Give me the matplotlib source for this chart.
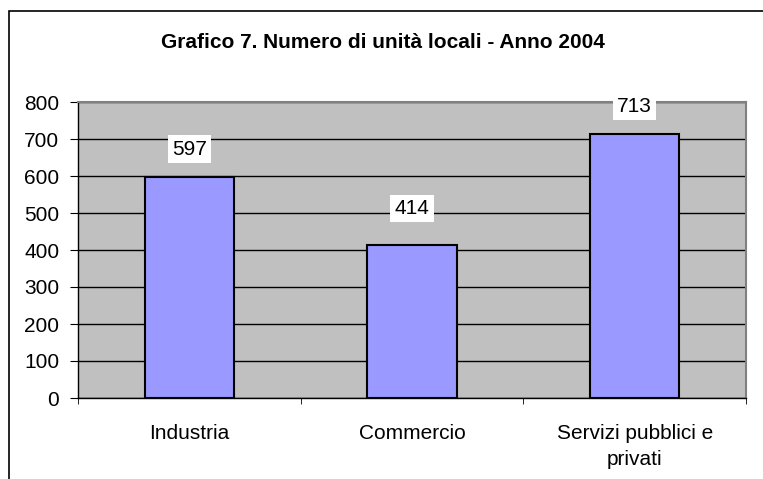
import matplotlib
matplotlib.use("Agg")
import matplotlib.pyplot as plt
from matplotlib.patches import Rectangle

categories = ["Industria", "Commercio", "Servizi pubblici e\nprivati"]
values = [597, 414, 713]
label_offsets = [28, 36, 28]  # pixels above bar top, as in the original
yticks = [0, 100, 200, 300, 400, 500, 600, 700, 800]

plt.rcParams['font.family'] = ['Liberation Sans', 'DejaVu Sans']

fig = plt.figure(figsize=(7.63, 4.79), dpi=100)

# outer chart frame (runs off the right and bottom edge)
fig.patches.append(Rectangle((9 / 763, -0.1), 1.0, 1 - 11 / 479 + 0.1,
                             transform=fig.transFigure, fill=False,
                             edgecolor='black', linewidth=1.2))

ax = fig.add_axes([78 / 763, 1 - 398 / 479, 668 / 763, 296 / 479])
ax.set_facecolor('#C0C0C0')

x = list(range(len(categories)))
ax.bar(x, values, width=0.4, color='#9999FF', edgecolor='black',
       linewidth=1.5, zorder=3)

for xi, v, off in zip(x, values, label_offsets):
    ax.annotate(str(v), (xi, v), xytext=(0, off * 0.72), textcoords='offset points',
                ha='center', va='center', fontsize=15, zorder=4,
                bbox=dict(boxstyle='square,pad=0.2', fc='white', ec='none'))

ax.set_ylim(0, 800)
ax.set_xlim(-0.5, 2.5)
ax.set_yticks(yticks)
ax.yaxis.grid(True, color='black', linewidth=1)
ax.set_axisbelow(True)

ax.set_xticks(x)
ax.set_xticklabels(categories, fontsize=15, linespacing=1.42)
ax.set_xticks([-0.5, 0.5, 1.5, 2.5], minor=True)
ax.tick_params(axis='x', which='major', length=0, pad=19)
ax.tick_params(axis='x', which='minor', length=4.5, direction='out', color='black')
ax.tick_params(axis='y', length=5.5, direction='out', labelsize=15, pad=8)

for side in ['top', 'right']:
    ax.spines[side].set_color('#808080')
    ax.spines[side].set_linewidth(1.5)
for side in ['left', 'bottom']:
    ax.spines[side].set_color('black')
    ax.spines[side].set_linewidth(1)

fig.text(383 / 763, 1 - 43 / 479, "Grafico 7. Numero di unità locali - Anno 2004",
         ha='center', va='center', fontsize=15, fontweight='bold')

fig.savefig('out.png', dpi=100)
